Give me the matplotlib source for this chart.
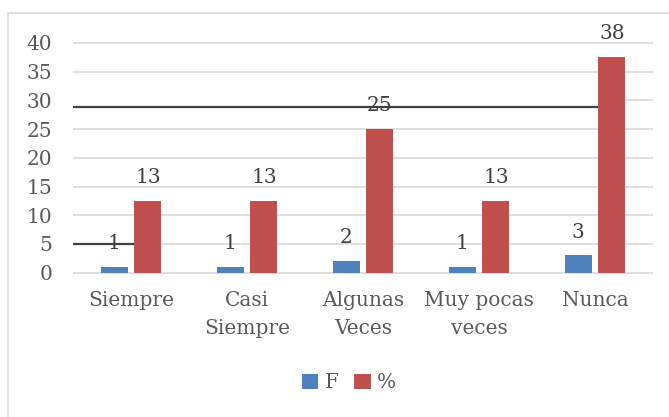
import matplotlib
matplotlib.use("Agg")
import matplotlib.pyplot as plt
import numpy as np
from matplotlib.patches import Rectangle

categories = ["Siempre", "Casi\nSiempre", "Algunas\nVeces", "Muy pocas\nveces", "Nunca"]
f_values = [1, 1, 2, 1, 3]
pct_values = [12.5, 12.5, 25, 12.5, 37.5]
f_labels = ["1", "1", "2", "1", "3"]
pct_labels = ["13", "13", "25", "13", "38"]
yticks = [0, 5, 10, 15, 20, 25, 30, 35, 40]

BLUE = "#4f81bd"
RED = "#c0504d"
GRID = "#d9d9d9"
TXT = "#595959"
FONT = "DejaVu Serif"
FS = 14.5

plt.rcParams["font.family"] = FONT

fig = plt.figure(figsize=(6.69, 4.17), dpi=100)
fig.patches.append(Rectangle((8 / 669, -0.1), 1.2, 1 - 13 / 417 + 0.1, transform=fig.transFigure,
                             fill=False, edgecolor="#d9d9d9", lw=1.2, zorder=0))

ax = fig.add_axes([73 / 669, 144.3 / 417, (653 - 73) / 669, (374 - 144.3) / 417])
x = np.arange(len(categories))
w = 0.232
off = 0.145
b1 = ax.bar(x - off, f_values, w, color=BLUE, zorder=3, label="F")
b2 = ax.bar(x + off, pct_values, w, color=RED, zorder=3, label="%")

ax.set_xlim(-0.5, len(categories) - 0.5)
ax.set_ylim(0, 40)

# gridlines (some partially overdrawn by dark lines in the original)
red_left = x + off - w / 2
for t in yticks:
    if t == 5:
        ax.hlines(t, red_left[0], 4.5, color=GRID, lw=1.2, zorder=1)
        ax.hlines(t, -0.5, red_left[0], color="#404040", lw=1.6, zorder=2)
    elif t == 30:
        ax.hlines(t, red_left[4], 4.5, color=GRID, lw=1.2, zorder=1)
        ax.hlines(28.8, -0.5, red_left[4], color="#404040", lw=1.6, zorder=2)
    else:
        ax.hlines(t, -0.5, 4.5, color=GRID, lw=1.2, zorder=1, clip_on=False)

for s in ax.spines.values():
    s.set_visible(False)

ax.set_yticks(yticks)
ax.set_yticklabels([str(t) for t in yticks], fontsize=FS, color=TXT)
ax.tick_params(axis="y", length=0, pad=15)
ax.set_xticks(x)
ax.set_xticklabels(categories, fontsize=FS, color=TXT, linespacing=1.6)
ax.tick_params(axis="x", length=0, pad=13)

for xi, v, lab in zip(x - off, f_values, f_labels):
    ax.annotate(lab, (xi, v), xytext=(0, 10), textcoords="offset points",
                ha="center", va="bottom", fontsize=FS, color="#404040", zorder=5)
for xi, v, lab in zip(x + off, pct_values, pct_labels):
    ax.annotate(lab, (xi, v), xytext=(0, 10), textcoords="offset points",
                ha="center", va="bottom", fontsize=FS, color="#404040", zorder=5)

fig.legend(handles=[b1, b2], labels=["F", "%"], loc="center", bbox_to_anchor=(349 / 669, 1 - 383 / 417),
           ncol=2, frameon=False, fontsize=FS, handlelength=0.8, handleheight=0.8,
           handletextpad=0.3, columnspacing=0.8, labelcolor=TXT)

fig.savefig("out.png", dpi=100)
